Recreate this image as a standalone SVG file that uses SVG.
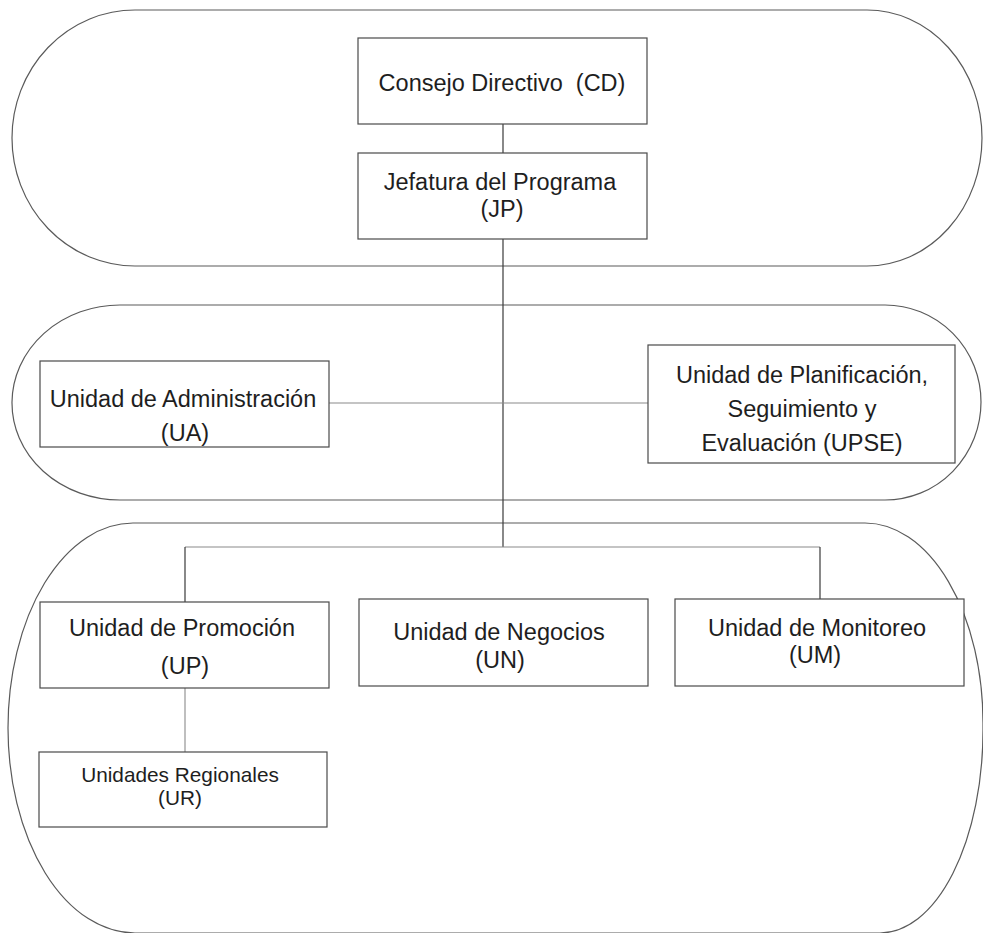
<svg xmlns="http://www.w3.org/2000/svg" width="983" height="933" viewBox="0 0 983 933">
<style>
.cap{fill:none;stroke:#5a5a5a;stroke-width:1.2}
.box{fill:#fff;stroke:#4a4a4a;stroke-width:1.2}
.ln{fill:none;stroke:#3a3a3a;stroke-width:1.2}
.lt{fill:none;stroke:#8a8a8a;stroke-width:1.1}
text{font-family:"Liberation Sans",Arial,sans-serif;font-size:23.5px;fill:#1e1e1e;text-anchor:middle;white-space:pre}
.sm{font-size:20.8px}
</style>
<rect width="983" height="933" fill="#fff"/>
<g id="capsules">
<path class="cap" d="M135,10 H867 A115,128 0 0 1 982,138 A115,128 0 0 1 867,266 H135 A123,128 0 0 1 12,138 A123,128 0 0 1 135,10 Z"/>
<path class="cap" d="M120,305 H885 A96,97 0 0 1 981,402 A96,98 0 0 1 885,500 H120 A108,97 0 0 1 12,402 A108,98 0 0 1 120,305 Z"/>
<path class="cap" d="M133,523 H865 A118,200 0 0 1 983,723 L983,730 A103,203 0 0 1 880,933 H135 A127,205 0 0 1 8,728 A125,205 0 0 1 133,523 Z"/>
</g>
<g id="connectors">
<line class="ln" x1="503" y1="124" x2="503" y2="153"/>
<line class="ln" x1="503" y1="239" x2="503" y2="547"/>
<line class="lt" x1="329" y1="403" x2="648" y2="403"/>
<line class="lt" x1="185" y1="547" x2="820" y2="547"/>
<line class="ln" x1="185" y1="547" x2="185" y2="602"/>
<line class="ln" x1="820" y1="547" x2="820" y2="599"/>
<line class="lt" x1="185" y1="688" x2="185" y2="752"/>
</g>
<g id="CD">
<rect class="box" x="358" y="38" width="289" height="86"/>
<text x="502" y="91">Consejo Directivo  (CD)</text>
</g>
<g id="JP">
<rect class="box" x="358" y="153" width="289" height="86"/>
<text x="500" y="190">Jefatura del Programa</text>
<text x="502" y="217">(JP)</text>
</g>
<g id="UA">
<rect class="box" x="40" y="361" width="289" height="86"/>
<text x="183" y="407">Unidad de Administración</text>
<text x="185" y="441">(UA)</text>
</g>
<g id="UPSE">
<rect class="box" x="648" y="345" width="307" height="118"/>
<text x="802" y="383">Unidad de Planificación,</text>
<text x="802" y="417">Seguimiento y</text>
<text x="802" y="451">Evaluación (UPSE)</text>
</g>
<g id="UP">
<rect class="box" x="40" y="602" width="289" height="86"/>
<text x="182" y="636">Unidad de Promoción</text>
<text x="185" y="674">(UP)</text>
</g>
<g id="UN">
<rect class="box" x="359" y="599" width="289" height="87"/>
<text x="499" y="640">Unidad de Negocios</text>
<text x="500" y="668">(UN)</text>
</g>
<g id="UM">
<rect class="box" x="675" y="599" width="289" height="87"/>
<text x="817" y="636">Unidad de Monitoreo</text>
<text x="815" y="663">(UM)</text>
</g>
<g id="UR">
<rect class="box" x="39" y="752" width="288" height="75"/>
<text class="sm" x="180" y="782">Unidades Regionales</text>
<text class="sm" x="180" y="805">(UR)</text>
</g>
</svg>
